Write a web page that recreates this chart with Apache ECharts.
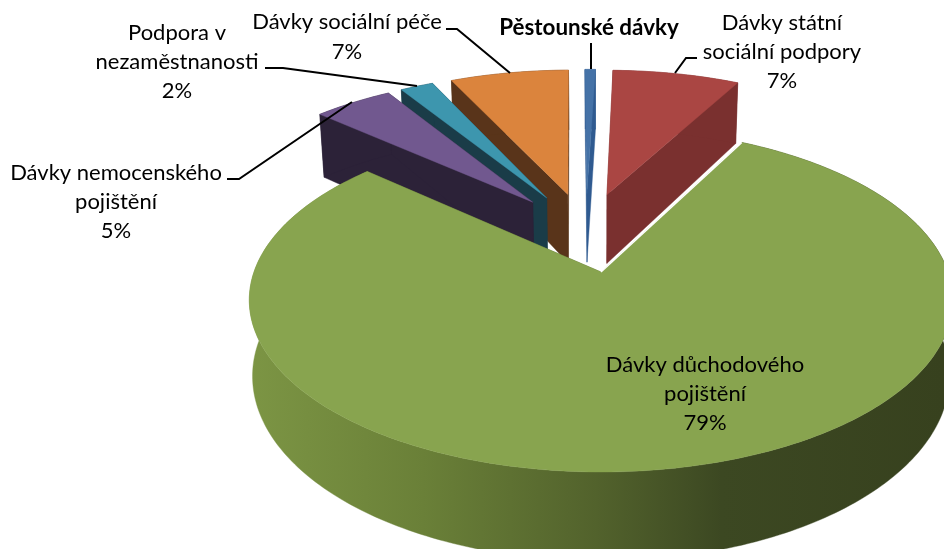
<!DOCTYPE html>
<html><head><meta charset="utf-8">
<style>html,body{margin:0;padding:0;background:#fff}#c{width:944px;height:549px}</style>
<script src="https://cdn.jsdelivr.net/npm/echarts@6/dist/echarts.min.js"></script>
</head><body><div id="c"></div>
<script>
// --- data (clockwise from the first slice) ---
const categories = ['Dávky státní\nsociální podpory','Dávky důchodového\npojištění','Dávky nemocenského\npojištění','Podpora v\nnezaměstnanosti','Dávky sociální péče','Pěstounské dávky'];
const values = [7.3, 78.9, 4.5, 1.9, 6.8, 0.6];
const showPercent = [true, true, true, true, true, false];
// --- styling and layout ---
const topColors  = ['#AA4643','#88A44F','#71588F','#3D96AE','#DB843D','#4572A7'];
const wallColors = ['#7A302F','#5a6a30','#2C2238','#1A3C48','#59341A','#2F5A90'];
const drawRank   = [0, 5, 4, 3, 2, 1];
const labelPos   = [[782,52],[705,394],[116,202],[177,62],[347,37],[589,28]];
const leaders    = [[[675,73],[686,58],[697,58]],null,[[227,179],[239,179],[352,102]],[[265,68],[283,68],[417,86]],[[446,29],[457,29],[510,73]],[[591,43],[591,69]]];
const GREEN = 1, START_DEG = 1.4, EXPLODE = 0.256, K = 0.163, DEPTH = 74.4;
const ORIGIN = [601, 272], SCALE = [347, 167.4];
const FONT = 'Lato, "Noto Sans", sans-serif', FONT_SIZE = 22, BOLD_SIZE = 22.4, LINE_H = 29.3;
const rimGradient = {type:'linear',x:250,y:0,x2:944,y2:0,global:true,colorStops:[
  {offset:0,color:'#7C9544'},{offset:.25,color:'#6A8038'},{offset:.5,color:'#52622C'},
  {offset:.68,color:'#3C4822'},{offset:1,color:'#37411E'}]};

const total = values.reduce((a,b)=>a+b,0);
const rad = d => d*Math.PI/180;
let acc = START_DEG;
const spans = values.map(v=>{const s=acc; acc+=v/total*360; return [s,acc];});
const dirOf = d => [Math.sin(rad(d)), -Math.cos(rad(d))];
const greenDir = dirOf((spans[GREEN][0]+spans[GREEN][1])/2);
function project(a,b){const w=1-K*b; return [ORIGIN[0]+SCALE[0]*a/w, ORIGIN[1]+SCALE[1]*b/w, w];}
function lower(p,shrink){return [p[0]-(p[0]-600)*shrink/p[2], p[1]+DEPTH/p[2]];}
const xy = p => [p[0],p[1]];

function renderItem(params, api){
  const i = params.dataIndex, v = api.value(0);
  const s = spans[i][0], e = s + v/total*360, md = (s+e)/2, d = dirOf(md);
  const ca = EXPLODE*(d[0]-greenDir[0]), cb = EXPLODE*(d[1]-greenDir[1]);
  const apex = project(ca,cb), arc = [];
  for(let t=s;;t+=1){const q=Math.min(t,e), u=dirOf(q); arc.push(project(ca+u[0],cb+u[1])); if(q>=e)break;}
  const z = drawRank[i]*10;
  const wallFill = i===GREEN ? rimGradient : wallColors[i];
  const shrink = i===GREEN ? 0.009 : 0.018;
  const low = p => lower(p,shrink);
  const poly = (pts,fill,zz)=>({type:'polygon',shape:{points:pts},style:{fill:fill,stroke:fill,lineWidth:0.4},z2:zz});
  const first = arc[0], last = arc[arc.length-1];
  const kids = [
    poly([xy(apex),xy(first),low(first),low(apex)],wallColors[i],z+1),
    poly([xy(apex),xy(last),low(last),low(apex)],wallColors[i],z+1),
    poly(arc.map(xy).concat(arc.slice().reverse().map(low)),wallFill,z+2),
    poly([xy(apex)].concat(arc.map(xy)),topColors[i],z+3)
  ];
  if(i===GREEN) kids.push({type:'polyline',shape:{points:[xy(apex),xy(first)]},style:{stroke:'#fff',lineWidth:1.5,fill:null},z2:z+4});
  if(leaders[i]) kids.push({type:'polyline',shape:{points:leaders[i]},style:{stroke:'#000',lineWidth:2,fill:null},z2:100});
  const pct = Math.round(v)+'%';
  kids.push({type:'text',z2:101,style:{
    text: categories[i]+(showPercent[i]?'\n'+pct:''),
    x:labelPos[i][0], y:labelPos[i][1], align:'center', verticalAlign:'middle',
    fontFamily:FONT, fontSize:showPercent[i]?FONT_SIZE:BOLD_SIZE, lineHeight:LINE_H,
    fontWeight: showPercent[i]?'normal':'bold', fill:'#000'}});
  return {type:'group',children:kids};
}
const chart = echarts.init(document.getElementById('c'),null,{renderer:'canvas',width:944,height:549});
chart.setOption({
  animation:false, backgroundColor:'#fff',
  series:[{type:'custom',coordinateSystem:'none',silent:true,renderItem:renderItem,
    data:values.map((v,i)=>({name:categories[i],value:[v]}))}]
});
</script></body></html>
